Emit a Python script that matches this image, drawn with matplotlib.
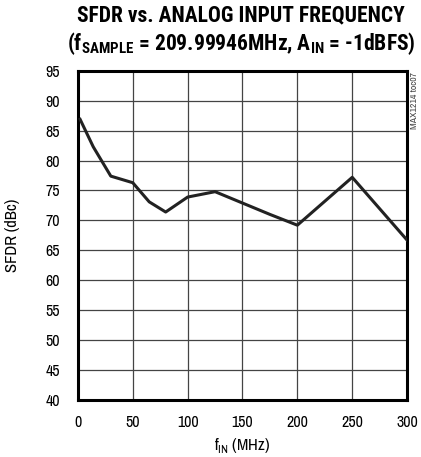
import matplotlib.pyplot as plt

plt.rcParams['font.family'] = ['Archivo Narrow', 'Liberation Sans', 'DejaVu Sans']
plt.rcParams['mathtext.fontset'] = 'custom'
plt.rcParams['mathtext.rm'] = 'Archivo Narrow'
plt.rcParams['mathtext.bf'] = 'Roboto Condensed:bold'

# data
f_in = [2, 14, 30, 50, 65, 80, 100, 125, 175, 200, 250, 300]
sfdr = [86.9, 82.3, 77.4, 76.3, 73.1, 71.4, 73.9, 74.8, 71.0, 69.2, 77.2, 66.7]

x_ticks = [0, 50, 100, 150, 200, 250, 300]
y_ticks = list(range(40, 96, 5))

fig = plt.figure(figsize=(4.21, 4.57), dpi=100)
ax = fig.add_axes([0.185, 0.125, 0.782, 0.72])

ax.plot(f_in, sfdr, color='#222222', lw=2.2, zorder=3)

ax.set_xlim(0, 300)
ax.set_ylim(40, 95)
ax.set_xticks(x_ticks)
ax.set_yticks(y_ticks)
ax.grid(True, color='#444444', lw=0.9)
for s in ax.spines.values():
    s.set_linewidth(2.2)
    s.set_color('black')
ax.tick_params(axis='y', length=0, labelsize=11.5, pad=13)
ax.tick_params(axis='x', length=0, labelsize=11.5, pad=11)

ax.set_xlabel(r'f$_{\mathrm{IN}}$ (MHz)', fontsize=12, labelpad=4)
ax.set_ylabel('SFDR (dBc)', fontsize=12, labelpad=18)

title_font = {'family': ['Roboto Condensed', 'DejaVu Sans'], 'weight': 'bold', 'size': 15.5}
fig.text(0.573, 0.966, 'SFDR vs. ANALOG INPUT FREQUENCY', ha='center', va='center',
         fontdict=title_font)
fig.text(0.573, 0.905,
         r'(f$_{\mathbf{SAMPLE}}$ = 209.99946MHz, A$_{\mathbf{IN}}$ = -1dBFS)',
         ha='center', va='center', fontdict=title_font)
fig.text(0.985, 0.843, 'MAX1214 toc07', rotation=90, ha='center', va='top',
         fontsize=7, color='#444444')

fig.savefig('out.png', dpi=100)
